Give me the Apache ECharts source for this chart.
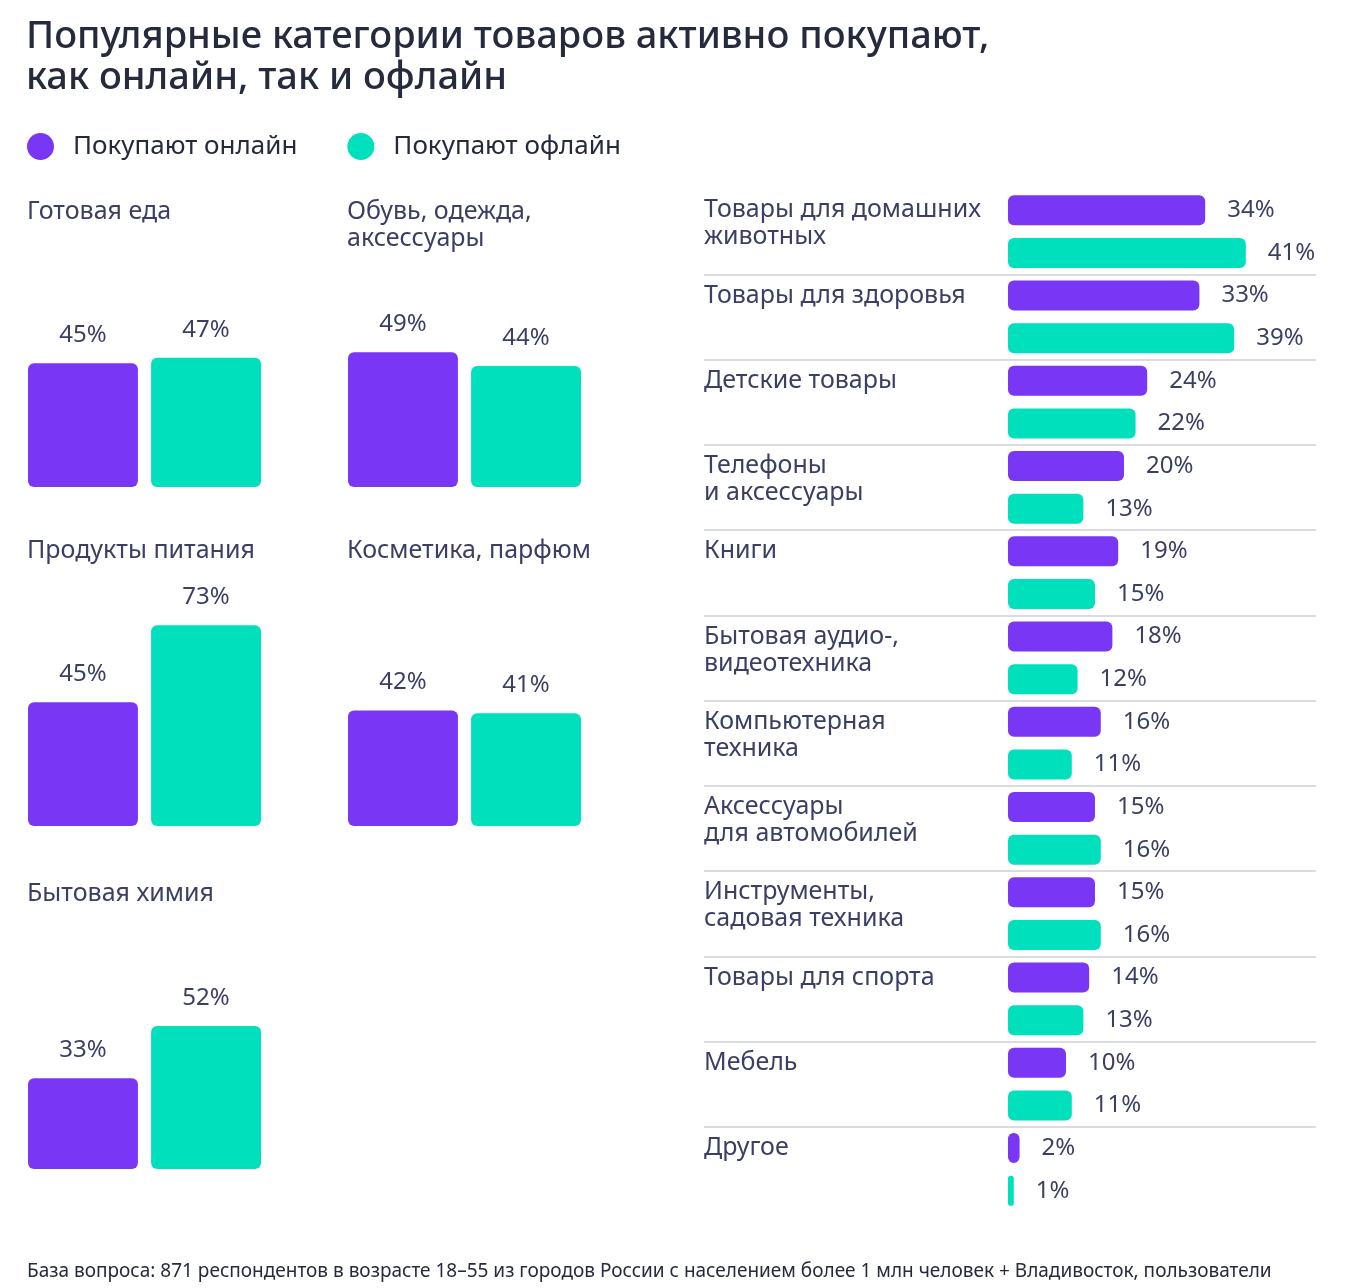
<!DOCTYPE html>
<html>
<head>
<meta charset="utf-8">
<script src="https://cdn.jsdelivr.net/npm/echarts@6/dist/echarts.min.js"></script>
<style>html,body{margin:0;padding:0;background:#fff}#c{width:1360px;height:1288px}</style>
</head>
<body>
<div id="c"></div>
<script>
// ---- data ----
const chartTitle = 'Популярные категории товаров активно покупают,\nкак онлайн, так и офлайн';
const seriesNames = ['Покупают онлайн', 'Покупают офлайн'];
const leftCategories = ['Готовая еда', 'Обувь, одежда,\nаксессуары', 'Продукты питания', 'Косметика, парфюм', 'Бытовая химия'];
const leftOnline = [45, 49, 45, 42, 33];
const leftOffline = [47, 44, 73, 41, 52];
const rightCategories = [
  'Товары для домашних\nживотных',
  'Товары для здоровья',
  'Детские товары',
  'Телефоны\nи аксессуары',
  'Книги',
  'Бытовая аудио-,\nвидеотехника',
  'Компьютерная\nтехника',
  'Аксессуары\nдля автомобилей',
  'Инструменты,\nсадовая техника',
  'Товары для спорта',
  'Мебель',
  'Другое'
];
const rightOnline = [34, 33, 24, 20, 19, 18, 16, 15, 15, 14, 10, 2];
const rightOffline = [41, 39, 22, 13, 15, 12, 11, 16, 16, 13, 11, 1];
const footnote = 'База вопроса: 871 респондентов в возрасте 18–55 из городов России с населением более 1 млн человек + Владивосток, пользователи';

// ---- style ----
const FONT = '"Noto Sans", "Open Sans", sans-serif';
const PURPLE = '#7a36f5';
const TEAL = '#00e0bd';
const TEXT = '#3b3f63';
const DARK = '#262a3d';

const chart = echarts.init(document.getElementById('c'));

const grids = [], xAxes = [], yAxes = [], series = [], titles = [];

titles.push({
  text: chartTitle, left: 26, top: 17, padding: 0,
  textStyle: { fontFamily: FONT, fontSize: 38, fontWeight: 500, color: DARK, lineHeight: 41 }
});
titles.push({
  text: footnote, left: 27, top: 1262, padding: 0,
  textStyle: { fontFamily: FONT, fontSize: 19, fontWeight: 400, color: DARK }
});

// left small charts
const colLeft = [28, 348];
const rowBottom = [487, 826, 1169];
const rowTitleTop = [198, 537, 880];
leftCategories.forEach((cat, i) => {
  const col = i % 2, row = Math.floor(i / 2);
  grids.push({ left: colLeft[col], width: 233, top: rowBottom[row] - 275, height: 275 });
  xAxes.push({ gridIndex: i, type: 'category', data: [cat], show: false });
  yAxes.push({ gridIndex: i, type: 'value', min: 0, max: 100, show: false });
  titles.push({
    text: cat, left: colLeft[col] - 1, top: rowTitleTop[row], padding: 0,
    textStyle: { fontFamily: FONT, fontSize: 25, fontWeight: 400, color: TEXT, lineHeight: 27 }
  });
  [[leftOnline, PURPLE, 0], [leftOffline, TEAL, 1]].forEach(([arr, color, k]) => {
    series.push({
      type: 'bar', name: seriesNames[k], xAxisIndex: i, yAxisIndex: i,
      data: [arr[i]], barWidth: 110, barGap: '12%',
      itemStyle: { color, borderRadius: 6 },
      label: {
        show: true, position: 'top', distance: 16, formatter: '{c}%',
        fontFamily: FONT, fontSize: 24, color: TEXT
      },
      emphasis: { disabled: true }
    });
  });
});

// right chart
const RG = leftCategories.length;       // bar grid index
const LG = RG + 1;                      // label grid index
const rightTop = 189, rightH = 1023;
grids.push({ left: 704, right: 44, top: rightTop, height: rightH });
xAxes.push({ gridIndex: RG, type: 'value', min: -52.4, max: 53.1, show: false });
yAxes.push({
  gridIndex: RG, type: 'category', inverse: true, data: rightCategories,
  axisLine: { show: false }, axisTick: { show: false }, axisLabel: { show: false },
  splitLine: { show: true, showMinLine: false, showMaxLine: false, lineStyle: { color: '#cfd0d6', width: 1.5 } }
});
grids.push({ left: 704, right: 44, top: rightTop - 35, height: rightH });
xAxes.push({ gridIndex: LG, type: 'value', min: 0, max: 1, show: false });
yAxes.push({
  gridIndex: LG, type: 'category', inverse: true, data: rightCategories,
  axisLine: { show: false }, axisTick: { show: false }, splitLine: { show: false },
  axisLabel: {
    show: true, inside: true, interval: 0, margin: 0, align: 'left', verticalAlign: 'top',
    fontFamily: FONT, fontSize: 25, lineHeight: 27, color: TEXT
  }
});
[[rightOnline, PURPLE, 0], [rightOffline, TEAL, 1]].forEach(([arr, color, k]) => {
  series.push({
    type: 'bar', name: seriesNames[k], xAxisIndex: RG, yAxisIndex: RG,
    data: arr, barWidth: 30, barGap: '43%',
    itemStyle: { color, borderRadius: 6 },
    label: {
      show: true, position: 'right', distance: 22, formatter: '{c}%',
      fontFamily: FONT, fontSize: 24, color: TEXT
    },
    emphasis: { disabled: true }
  });
});

chart.setOption({
  animation: false,
  backgroundColor: '#ffffff',
  title: titles,
  legend: {
    data: seriesNames, left: 27, top: 133, padding: 0, icon: 'circle',
    itemWidth: 27, itemHeight: 27, itemGap: 50, selectedMode: false,
    textStyle: { fontFamily: FONT, fontSize: 26, color: DARK, padding: [0, 0, 0, 14] }
  },
  grid: grids,
  xAxis: xAxes,
  yAxis: yAxes,
  series: series
});
</script>
</body>
</html>
